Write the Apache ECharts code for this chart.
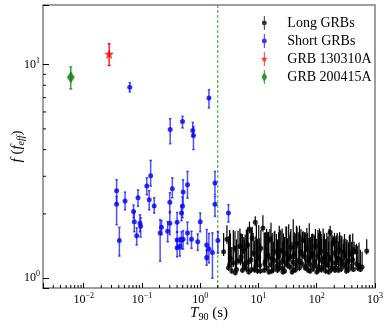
<!DOCTYPE html>
<html>
<head>
<meta charset="utf-8">
<script src="https://cdn.jsdelivr.net/npm/echarts@6/dist/echarts.min.js"></script>
<style>
html, body { margin: 0; padding: 0; background: #fff; }
#main { width: 390px; height: 330px; }
</style>
</head>
<body>
<div id="main"></div>
<script>
// long GRBs: T90 (s), f, lower / upper error
var longT90 = [
    2.52, 2.87, 3.05, 3.3, 3.48, 3.7, 3.95, 4.2, 4.45, 4.8,
    5.05, 5.3, 5.6, 5.9, 6.2, 6.5, 6.8, 7.0, 7.4, 7.8,
    8.1, 8.5, 8.8, 9.2, 9.6, 10.1, 10.5, 11.0, 11.9, 12.5,
    13.1, 13.8, 14.4, 15.1, 15.7, 16.4, 17.2, 18.0, 19.1, 20.3,
    21.2, 22.1, 23.4, 24.3, 25.5, 26.8, 28.1, 29.6, 31.3, 33.0,
    34.6, 36.0, 37.7, 39.5, 41.2, 43.6, 45.9, 48.1, 50.5, 53.6,
    55.8, 58.4, 61.5, 64.9, 67.6, 71.2, 74.4, 78.9, 82.0, 86.5,
    91.3, 95.0, 99.8, 104.7, 111.0, 116.8, 121.5, 128.9, 135.2, 142.4,
    149.0, 156.3, 163.1, 170.0, 178.6, 188.2, 194.0, 201.5, 212.7, 224.0,
    236.5, 247.1, 259.8, 271.3, 286.0, 299.4, 316.2, 331.7, 352.0, 374.6,
    395.0, 414.8, 437.0, 455.3, 480.2, 505.6, 532.0, 560.4, 600.0, 721.0,
    3.2, 4.0, 4.9, 5.7, 6.6, 7.6, 9.0, 10.8, 12.9, 14.8,
    16.9, 18.6, 22.7, 26.2, 30.4, 35.3, 40.3, 44.8, 51.7, 57.1,
    63.2, 69.5, 76.8, 84.1, 93.6, 107.3, 119.0, 132.6, 145.8, 160.2,
    175.4, 183.0, 205.8, 218.9, 241.6, 265.0, 292.3, 323.5, 362.8, 426.0
];
var longF = [
    1.33, 1.52, 1.12, 1.24, 1.08, 1.18, 1.38, 1.10, 1.21, 1.41,
    1.26, 1.09, 1.36, 1.17, 1.11, 1.43, 1.07, 1.70, 1.22, 1.54,
    1.31, 1.10, 1.83, 1.19, 1.08, 1.25, 1.15, 1.38, 1.72, 1.09,
    1.20, 1.12, 1.29, 1.07, 1.52, 1.16, 1.23, 1.10, 1.33, 1.14,
    1.09, 1.27, 1.18, 1.35, 1.11, 1.22, 1.08, 1.30, 1.15, 1.24,
    1.13, 1.40, 1.07, 1.19, 1.28, 1.10, 1.45, 1.21, 1.12, 1.33,
    1.17, 1.50, 1.26, 1.14, 1.38, 1.09, 1.23, 1.16, 1.31, 1.11,
    1.20, 1.42, 1.07, 1.27, 1.13, 1.34, 1.10, 1.19, 1.25, 1.08,
    1.29, 1.15, 1.22, 1.64, 1.10, 1.18, 1.47, 1.31, 1.12, 1.24,
    1.09, 1.36, 1.16, 1.21, 1.33, 1.27, 1.13, 1.19, 1.10, 1.30,
    1.14, 1.22, 1.34, 1.33, 1.17, 1.12, 1.15, 1.10, 1.13, 1.34,
    1.16, 1.06, 1.20, 1.13, 1.19, 1.10, 1.14, 1.08, 1.17, 1.25,
    1.08, 1.21, 1.12, 1.07, 1.18, 1.26, 1.09, 1.16, 1.20, 1.29,
    1.12, 1.20, 1.08, 1.27, 1.15, 1.09, 1.22, 1.13, 1.17, 1.07,
    1.25, 1.12, 1.09, 1.18, 1.23, 1.11, 1.16, 1.08, 1.21, 1.10
];
var longUp = [
    0.30, 0.25, 0.45, 0.38, 0.32, 0.50, 0.28, 0.42, 0.46, 0.30,
    0.36, 0.52, 0.20, 0.43, 0.58, 0.30, 0.40, 0.14, 0.50, 0.20,
    0.32, 0.40, 0.12, 0.60, 0.45, 0.52, 0.39, 0.30, 0.25, 0.55,
    0.44, 0.58, 0.35, 0.48, 0.18, 0.66, 0.40, 0.38, 0.34, 0.47,
    0.43, 0.37, 0.51, 0.32, 0.60, 0.40, 0.48, 0.45, 0.39, 0.55,
    0.46, 0.30, 0.41, 0.70, 0.36, 0.52, 0.28, 0.43, 0.64, 0.37,
    0.40, 0.16, 0.38, 0.47, 0.34, 0.45, 0.58, 0.39, 0.30, 0.50,
    0.38, 0.28, 0.46, 0.41, 0.58, 0.32, 0.43, 0.52, 0.37, 0.44,
    0.34, 0.42, 0.48, 0.12, 0.40, 0.37, 0.10, 0.32, 0.45, 0.39,
    0.40, 0.28, 0.43, 0.36, 0.12, 0.34, 0.40, 0.32, 0.37, 0.30,
    0.34, 0.40, 0.14, 0.10, 0.28, 0.30, 0.32, 0.26, 0.20, 0.18,
    0.52, 0.36, 0.42, 0.39, 0.48, 0.58, 0.43, 0.38, 0.46, 0.40,
    0.50, 0.44, 0.64, 0.42, 0.56, 0.38, 0.48, 0.60, 0.41, 0.36,
    0.52, 0.43, 0.48, 0.35, 0.46, 0.54, 0.39, 0.44, 0.36, 0.41,
    0.37, 0.48, 0.44, 0.41, 0.35, 0.42, 0.36, 0.40, 0.38, 0.30
];
var longDn = [
    0.06, 0.07, 0.04, 0.05, 0.03, 0.05, 0.06, 0.04, 0.05, 0.04,
    0.05, 0.03, 0.06, 0.04, 0.04, 0.05, 0.03, 0.08, 0.05, 0.04,
    0.05, 0.04, 0.07, 0.05, 0.03, 0.05, 0.04, 0.06, 0.07, 0.03,
    0.05, 0.04, 0.05, 0.03, 0.06, 0.04, 0.05, 0.04, 0.05, 0.04,
    0.03, 0.05, 0.05, 0.06, 0.04, 0.05, 0.03, 0.06, 0.04, 0.05,
    0.04, 0.06, 0.03, 0.05, 0.05, 0.04, 0.07, 0.05, 0.04, 0.06,
    0.05, 0.03, 0.05, 0.04, 0.06, 0.03, 0.05, 0.04, 0.06, 0.04,
    0.05, 0.06, 0.03, 0.05, 0.04, 0.06, 0.04, 0.05, 0.05, 0.03,
    0.05, 0.04, 0.05, 0.07, 0.04, 0.05, 0.06, 0.05, 0.04, 0.05,
    0.03, 0.06, 0.04, 0.05, 0.03, 0.05, 0.04, 0.05, 0.04, 0.05,
    0.04, 0.05, 0.05, 0.03, 0.04, 0.04, 0.04, 0.03, 0.03, 0.05,
    0.04, 0.03, 0.05, 0.04, 0.05, 0.04, 0.04, 0.03, 0.04, 0.05,
    0.03, 0.05, 0.04, 0.03, 0.04, 0.05, 0.03, 0.04, 0.05, 0.05,
    0.04, 0.05, 0.03, 0.05, 0.04, 0.03, 0.05, 0.04, 0.04, 0.03,
    0.05, 0.04, 0.03, 0.05, 0.05, 0.04, 0.04, 0.03, 0.05, 0.03
];

// short GRBs
var shortT90 = [
    0.0617, 0.305, 0.496, 0.745, 0.765, 1.41, 0.141, 0.0367, 0.0367, 0.0512,
    0.0409, 0.0716, 0.0738, 0.0811, 0.0855, 0.0924, 0.0948, 0.121, 0.133, 0.162,
    0.205, 0.216, 0.276, 0.301, 0.332, 0.301, 0.401, 0.401, 0.401, 0.446,
    0.477, 0.508, 0.508, 0.496, 0.477, 0.604, 0.604, 0.708, 0.906, 1.0,
    1.29, 1.41, 1.62, 1.29, 1.79, 1.79, 2.01, 3.05
];
var shortF = [
    7.83, 4.96, 5.41, 4.92, 4.66, 6.98, 3.02, 2.57, 2.22, 2.30,
    1.50, 2.05, 1.84, 1.58, 2.38, 1.81, 1.75, 2.70, 2.33, 2.18,
    1.63, 1.73, 1.66, 2.27, 2.62, 1.81, 1.83, 1.51, 1.39, 1.41,
    1.51, 1.52, 2.53, 2.17, 2.02, 2.74, 1.63, 1.52, 1.48, 1.84,
    1.43, 1.37, 1.32, 1.25, 2.79, 2.22, 1.50, 2.02
];
var shortUp = [
    0.40, 0.62, 0.31, 0.44, 0.46, 0.65, 0.54, 0.32, 0.19, 0.23,
    0.23, 0.15, 0.21, 0.14, 0.21, 0.17, 0.17, 0.25, 0.24, 0.20,
    0.25, 0.13, 0.18, 0.24, 0.33, 0.24, 0.20, 0.13, 0.13, 0.14,
    0.14, 0.15, 0.36, 0.23, 0.17, 0.42, 0.20, 0.14, 0.13, 0.18,
    0.26, 0.25, 0.31, 0.10, 0.37, 0.19, 0.15, 0.19
];
var shortDn = [
    0.38, 0.70, 0.36, 0.31, 0.66, 0.71, 0.32, 0.32, 0.44, 0.21,
    0.23, 0.13, 0.19, 0.15, 0.21, 0.16, 0.19, 0.24, 0.24, 0.16,
    0.43, 0.13, 0.18, 0.25, 0.24, 0.21, 0.18, 0.12, 0.13, 0.14,
    0.14, 0.15, 0.32, 0.25, 0.16, 0.37, 0.18, 0.14, 0.13, 0.19,
    0.21, 0.19, 0.32, 0.10, 0.33, 0.27, 0.19, 0.19
];

// individual bursts: [T90, f, lower err, upper err]
var grb130310A = [0.0273, 11.2, 1.3, 1.3];
var grb200415A = [0.0060, 8.72, 1.03, 1.03];

var durationCut = 2;

// tick positions
var xMinorTicks = [
    0.003, 0.004, 0.005, 0.006, 0.007, 0.008, 0.009,
    0.02, 0.03, 0.04, 0.05, 0.06, 0.07, 0.08, 0.09,
    0.2, 0.3, 0.4, 0.5, 0.6, 0.7, 0.8, 0.9,
    2, 3, 4, 5, 6, 7, 8, 9,
    20, 30, 40, 50, 60, 70, 80, 90,
    200, 300, 400, 500, 600, 700, 800, 900
];
var yMinorTicks = [2, 3, 4, 5, 6, 7, 8, 9];

var xMin = 0.002, xMax = 1000, yMin = 0.9, yMax = 19;

var serif = "'Liberation Serif', 'DejaVu Serif', serif";

var chart = echarts.init(document.getElementById('main'));

function toErr(t, f, dn, up) {
    return t.map(function (v, i) { return [v, f[i] - dn[i], f[i] + up[i]]; });
}
function toPts(t, f) {
    return t.map(function (v, i) { return [v, f[i]]; });
}

function errRender(color, width, cap) {
    return function (params, api) {
        var hi = api.coord([api.value(0), api.value(2)]);
        var lo = api.coord([api.value(0), api.value(1)]);
        var st = { stroke: color, lineWidth: width };
        var kids = [{ type: 'line', shape: { x1: hi[0], y1: hi[1], x2: lo[0], y2: lo[1] }, style: st }];
        if (cap > 0) {
            kids.push({ type: 'line', shape: { x1: hi[0] - cap, y1: hi[1], x2: hi[0] + cap, y2: hi[1] }, style: st });
            kids.push({ type: 'line', shape: { x1: lo[0] - cap, y1: lo[1], x2: lo[0] + cap, y2: lo[1] }, style: st });
        }
        return { type: 'group', children: kids };
    };
}

function powLabel(v) {
    var l = Math.log10(v);
    var e = Math.round(l);
    if (Math.abs(l - e) > 1e-6) return '';
    return '{b|10}{s|' + (e < 0 ? '\u2212' + (-e) : e) + '}';
}
var tickRich = {
    b: { fontFamily: serif, fontSize: 12, color: '#000' },
    s: { fontFamily: serif, fontSize: 8, color: '#000', padding: [0, 0, 8, 0] }
};

var starPath = 'path://M5,0L6.18,3.38L9.76,3.45L6.9,5.62L7.94,9.05L5,7L2.06,9.05L3.1,5.62L0.24,3.45L3.82,3.38Z';
var iconDot = 'path://M4.3,0H5.7V20H4.3Z M1.5,10A3.5,3.5,0,1,1,8.5,10A3.5,3.5,0,1,1,1.5,10Z';
var iconStar = 'path://M4.3,0H5.7V20H4.3Z M5,5L6.18,8.38L9.76,8.46L6.9,10.62L7.94,14.05L5,12L2.06,14.05L3.1,10.62L0.24,8.46L3.82,8.38Z';
var iconDiamond = 'path://M4.3,0H5.7V20H4.3Z M5,2.5L9,10L5,17.5L1,10Z';

var option = {
    animation: false,
    backgroundColor: '#fff',
    grid: {
        left: 43, top: 5, right: 15, bottom: 42,
        outerBoundsMode: 'none',
        containLabel: false,
        show: true, borderColor: '#808080', borderWidth: 1.5
    },
    legend: {
        orient: 'vertical',
        left: 256, top: 11,
        itemWidth: 36, itemHeight: 14, itemGap: 4,
        textStyle: { fontFamily: serif, fontSize: 14, color: '#000' },
        data: [
            { name: 'Long GRBs', icon: iconDot },
            { name: 'Short GRBs', icon: iconDot },
            { name: 'GRB 130310A', icon: iconStar },
            { name: 'GRB 200415A', icon: iconDiamond }
        ]
    },
    xAxis: {
        type: 'log', logBase: 10, min: xMin, max: xMax,
        axisLine: { show: false },
        axisTick: { inside: true, length: 5, lineStyle: { color: '#000', width: 1 } },
        axisLabel: { margin: 4, formatter: powLabel, rich: tickRich },
        splitLine: { show: false },
        name: '{t|T}{sub|90}{n| (s)}',
        nameLocation: 'middle', nameGap: 16, nameMoveOverlap: false,
        nameTextStyle: {
            rich: {
                t: { fontFamily: serif, fontStyle: 'italic', fontSize: 15, color: '#000' },
                sub: { fontFamily: serif, fontSize: 10, color: '#000', padding: [8, 0, 0, 0] },
                n: { fontFamily: serif, fontSize: 15, color: '#000' }
            }
        }
    },
    yAxis: {
        type: 'log', logBase: 10, min: yMin, max: yMax,
        axisLine: { show: false },
        axisTick: { inside: true, length: 6, lineStyle: { color: '#000', width: 1 } },
        axisLabel: { margin: 3, formatter: powLabel, rich: tickRich },
        splitLine: { show: false },
        name: '{i|f}{n| (}{i|f}{sub|eff}{n|)}',
        nameLocation: 'middle', nameGap: 17, nameMoveOverlap: false,
        nameTextStyle: {
            rich: {
                i: { fontFamily: serif, fontStyle: 'italic', fontSize: 15, color: '#000' },
                sub: { fontFamily: serif, fontStyle: 'italic', fontSize: 10, color: '#000', padding: [8, 0, 0, 0] },
                n: { fontFamily: serif, fontSize: 15, color: '#000' }
            }
        }
    },
    series: [
        {
            name: 'long-err', type: 'custom', silent: true,
            encode: { x: 0, y: [1, 2] },
            renderItem: errRender('#000', 1.2, 0),
            data: toErr(longT90, longF, longDn, longUp), z: 2
        },
        {
            name: 'Long GRBs', type: 'scatter', symbol: 'circle', symbolSize: 5,
            itemStyle: { color: '#000' },
            data: toPts(longT90, longF), z: 3
        },
        {
            name: 'cut', type: 'line', silent: true, symbol: 'none',
            lineStyle: { color: '#1fa51f', type: [3, 2], width: 1 },
            data: [[durationCut, yMin], [durationCut, yMax]], z: 3
        },
        {
            name: 'short-err', type: 'custom', silent: true,
            encode: { x: 0, y: [1, 2] },
            renderItem: errRender('rgba(20,20,255,0.75)', 1.5, 1.2),
            data: toErr(shortT90, shortF, shortDn, shortUp), z: 4
        },
        {
            name: 'Short GRBs', type: 'scatter', symbol: 'circle', symbolSize: 5,
            itemStyle: { color: '#0000ff' },
            data: toPts(shortT90, shortF), z: 5
        },
        {
            name: 'grb130310A-err', type: 'custom', silent: true,
            encode: { x: 0, y: [1, 2] },
            renderItem: errRender('#ff0000', 1.3, 1.5),
            data: [[grb130310A[0], grb130310A[1] - grb130310A[2], grb130310A[1] + grb130310A[3]]], z: 6
        },
        {
            name: 'GRB 130310A', type: 'scatter', symbol: starPath, symbolSize: 10,
            itemStyle: { color: '#ff0000' },
            data: [[grb130310A[0], grb130310A[1]]], z: 7
        },
        {
            name: 'grb200415A-err', type: 'custom', silent: true,
            encode: { x: 0, y: [1, 2] },
            renderItem: errRender('#2e8b2e', 1.3, 1.5),
            data: [[grb200415A[0], grb200415A[1] - grb200415A[2], grb200415A[1] + grb200415A[3]]], z: 6
        },
        {
            name: 'GRB 200415A', type: 'scatter', symbol: 'diamond', symbolSize: [8, 12],
            itemStyle: { color: '#008000' },
            data: [[grb200415A[0], grb200415A[1]]], z: 7
        },
        {
            name: 'x-minor', type: 'custom', silent: true,
            encode: { x: 0, y: 1 },
            renderItem: function (params, api) {
                var p = api.coord([api.value(0), api.value(1)]);
                return { type: 'line', shape: { x1: p[0], y1: p[1], x2: p[0], y2: p[1] - 3 }, style: { stroke: '#000', lineWidth: 1 } };
            },
            data: xMinorTicks.map(function (v) { return [v, yMin]; }), z: 8
        },
        {
            name: 'y-minor', type: 'custom', silent: true,
            encode: { x: 0, y: 1 },
            renderItem: function (params, api) {
                var p = api.coord([api.value(0), api.value(1)]);
                return { type: 'line', shape: { x1: p[0], y1: p[1], x2: p[0] + 3, y2: p[1] }, style: { stroke: '#000', lineWidth: 1 } };
            },
            data: yMinorTicks.map(function (v) { return [xMin, v]; }), z: 8
        }
    ]
};
chart.setOption(option);
</script>
</body>
</html>
